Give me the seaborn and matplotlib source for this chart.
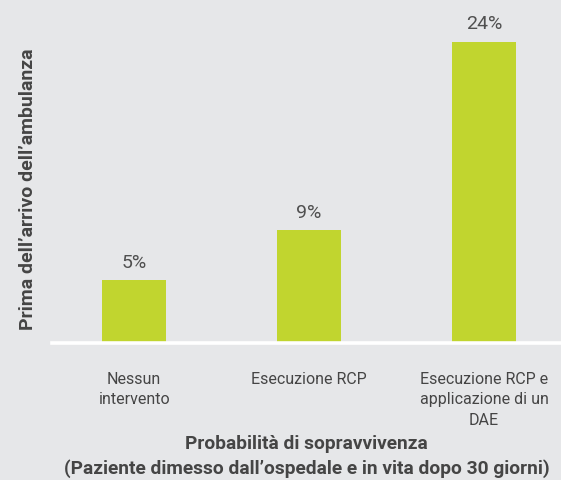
import matplotlib
matplotlib.use("Agg")
import matplotlib.pyplot as plt
import seaborn as sns
import pandas as pd

# Data
categories = ["Nessun\nintervento", "Esecuzione RCP", "Esecuzione RCP e\napplicazione di un\nDAE"]
survival = [5, 9, 24]
value_labels = ["5%", "9%", "24%"]

bg = "#e6e7e9"
bar_color = "#c1d52f"
text_color = "#454545"

sns.set_theme(style="white")
plt.rcParams["font.family"] = ["Roboto", "DejaVu Sans"]

df = pd.DataFrame({"categoria": categories, "valore": survival})

fig = plt.figure(figsize=(5.61, 4.81), dpi=100, facecolor=bg)
ax = fig.add_axes([52 / 561, 1 - 344 / 481, 509 / 561, 344 / 481])
ax.set_facecolor(bg)

sns.barplot(data=df, x="categoria", y="valore", color=bar_color, width=0.366,
            saturation=1, linewidth=0, ax=ax)

# percent labels above bars
for i, (v, lab) in enumerate(zip(survival, value_labels)):
    ax.text(i, v + 0.75, lab, ha="center", va="bottom", fontsize=14,
            fontweight="normal", color="#505050")

ax.set_xlim(-0.47, 2.44)
ax.set_ylim(0, 27.4)
ax.set_yticks([])
for s in ["top", "right", "left"]:
    ax.spines[s].set_visible(False)
ax.spines["bottom"].set_color("white")
ax.spines["bottom"].set_linewidth(2.6)

ax.tick_params(axis="x", length=0, pad=20, labelsize=11.5, labelcolor=text_color)
for t in ax.get_xticklabels():
    t.set_linespacing(1.45)

ax.set_xlabel("Probabilità di sopravvivenza\n(Paziente dimesso dall’ospedale e in vita dopo 30 giorni)",
              fontsize=13.8, fontweight="bold", color=text_color, labelpad=5,
              linespacing=1.42)
ax.set_ylabel("Prima dell’arrivo dell’ambulanza", fontsize=14, fontweight="bold",
              color=text_color)
ax.yaxis.set_label_coords(-0.03, 0.45)

fig.savefig("out.png", dpi=100, facecolor=bg)
